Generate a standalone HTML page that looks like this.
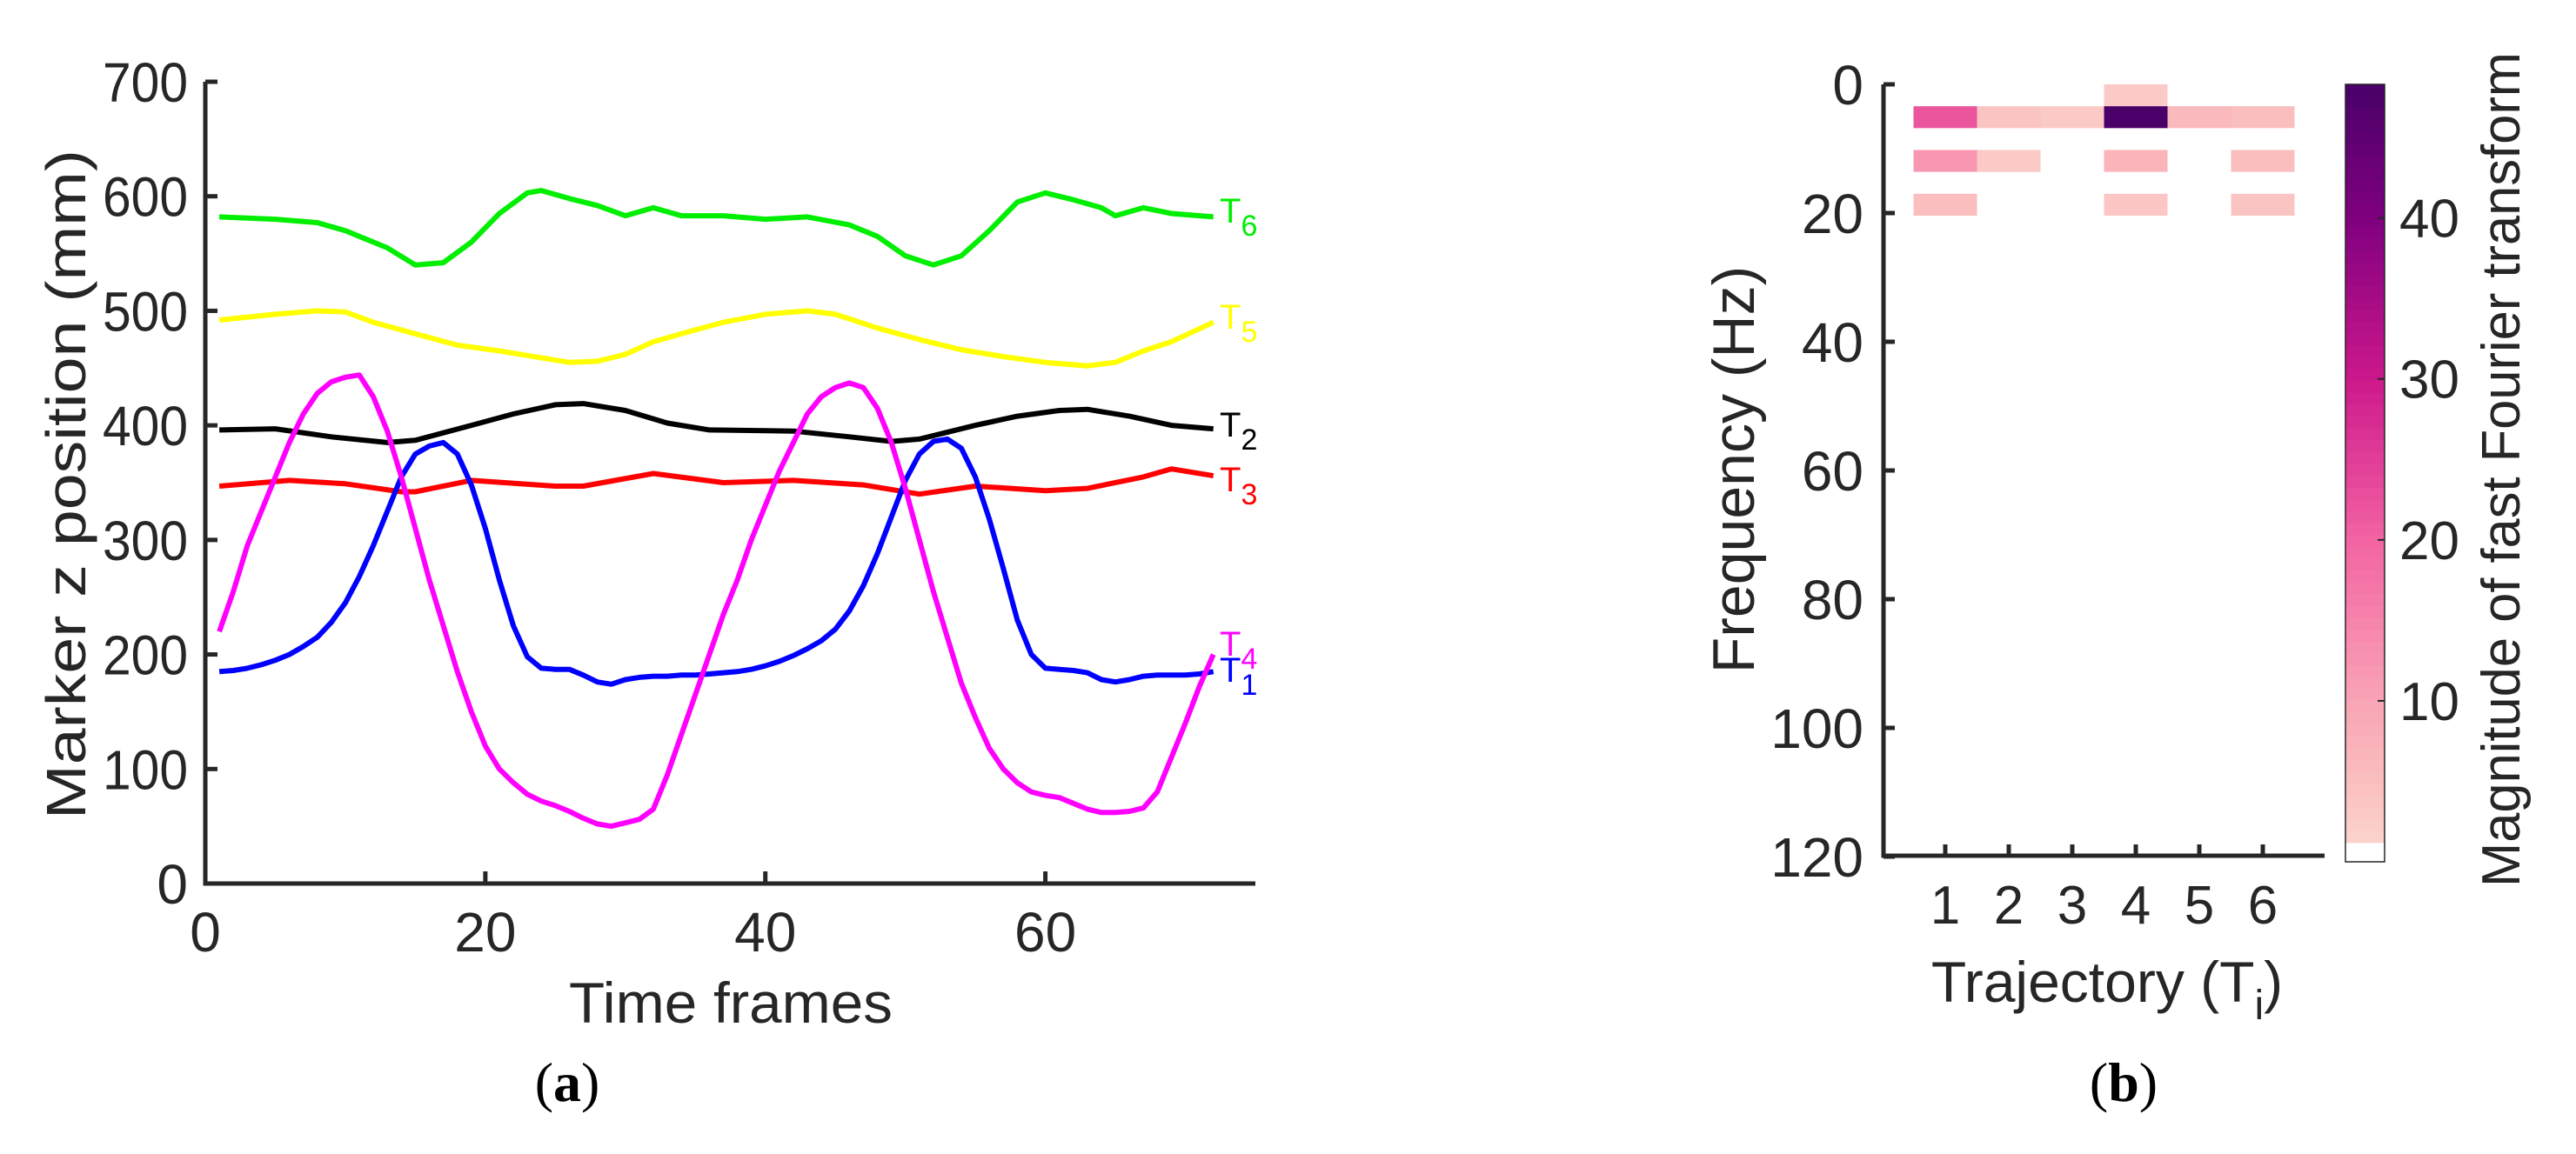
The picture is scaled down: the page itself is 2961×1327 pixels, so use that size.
<!DOCTYPE html>
<html><head><meta charset="utf-8"><style>
html,body{margin:0;padding:0;background:#fff}
svg text{font-family:"Liberation Sans",sans-serif;fill:#262626}
</style></head><body>
<svg id="fig" width="2961" height="1322" viewBox="0 0 2961 1322" xmlns="http://www.w3.org/2000/svg">
<g id="left"></g>
<g id="right"></g>
</svg>
<script>
// ---------- chart (a) data ----------
const frames = [];
for (let i = 1; i <= 72; i++) frames.push(i);
const t4Values = [220,255,295,325,355,385,410,428,438,442,444,425,395,355,310,265,225,185,150,120,100,88,78,72,68,63,57,52,50,53,56,65,95,130,165,200,235,265,300,330,360,385,410,425,433,437,433,415,385,345,300,255,215,175,145,118,100,88,80,77,75,70,65,62,62,63,66,80,110,140,172,200];
const t1Values = [185,186,188,191,195,200,207,215,228,245,268,295,325,355,375,382,385,375,348,310,265,225,198,188,187,187,182,176,174,178,180,181,181,182,182,183,184,185,187,190,194,199,205,212,222,238,260,288,320,352,375,386,388,380,355,318,275,230,200,188,187,186,184,178,176,178,181,182,182,182,183,185];
const t3Frames = [1,6,10,14,15,19,25,27,32,37,42,47,51,55,60,63,67,69,72];
const t3Values = [347,352,349,342,342,352,347,347,358,350,352,348,340,347,343,345,355,362,356];
const t2Frames = [1,5,9,13,15,19,22,25,27,30,33,36,42,46,49,51,55,58,61,63,66,69,72];
const t2Values = [396,397,390,385,387,400,410,418,419,413,402,396,395,390,386,388,400,408,413,414,408,400,397];
const t5Frames = [1,5,8,10,12,15,18,21,24,26,28,30,32,34,37,40,43,45,48,51,54,57,60,63,65,67,69,72];
const t5Values = [492,497,500,499,490,480,470,465,459,455,456,462,473,480,490,497,500,497,485,475,466,460,455,452,455,465,473,490];
const t6Frames = [1,5,8,10,13,15,17,19,21,23,24,26,28,30,32,34,37,40,43,46,48,50,52,54,56,58,60,62,64,65,67,69,72];
const t6Values = [582,580,577,570,555,540,542,560,585,603,605,598,592,583,590,583,583,580,582,575,565,548,540,548,570,595,603,597,590,583,590,585,582];
const xTicksA = [0,20,40,60];
const yTicksA = [0,100,200,300,400,500,600,700];

// ---------- chart (b) data ----------
const trajectories = [1,2,3,4,5,6];
const freqBinStarts = [0,3.4,10.2,17];
const magRow0 = [null,null,null,3,null,null];
const magRow1 = [22,4,3,48,6,5];
const magRow2 = [12,3,null,7,null,5];
const magRow3 = [5,null,null,3.5,null,4];
const freqTicks = [0,20,40,60,80,100,120];
const cbTicks = [10,20,30,40];

const NS = "http://www.w3.org/2000/svg";
function mk(parent, tag, attrs, text) {
  const e = document.createElementNS(NS, tag);
  for (const k in attrs) e.setAttribute(k, attrs[k]);
  if (text !== undefined) e.textContent = text;
  parent.appendChild(e);
  return e;
}
const axisCol = "#262626";

// ===== chart (a) =====
const L = document.getElementById('left');
const ax = f => 236 + f * (1207 / 75);
const ay = v => 1016 - v * (922 / 700);
let a1 = mk(L, 'path', {d: `M236,${ay(700)} V1016 H${ax(75)}`, fill: 'none', stroke: axisCol, 'stroke-width': 5});


yTicksA.forEach(v => {
  let t = mk(L, 'line', {x1: 236, x2: 250, y1: ay(v), y2: ay(v), stroke: axisCol, 'stroke-width': 5});
  
  
  let l = mk(L, 'text', {x: 216, y: ay(v) + 23, 'text-anchor': 'end', 'font-size': 64, textLength: 98, lengthAdjust: 'spacingAndGlyphs'}, String(v));
  if (v === 0) { l.removeAttribute('textLength'); l.removeAttribute('lengthAdjust'); }
  
  
});
xTicksA.forEach(v => {
  let t = mk(L, 'line', {x1: ax(v), x2: ax(v), y1: 1016, y2: 1002, stroke: axisCol, 'stroke-width': 5});
  
  
  let l = mk(L, 'text', {x: ax(v), y: 1094, 'text-anchor': 'middle', 'font-size': 64}, String(v));
  
  
});
let xt = mk(L, 'text', {x: 840, y: 1176, 'text-anchor': 'middle', 'font-size': 66, textLength: 372, lengthAdjust: 'spacingAndGlyphs'}, 'Time frames');


let yt = mk(L, 'text', {x: 0, y: 0, 'text-anchor': 'middle', 'font-size': 64, textLength: 770, lengthAdjust: 'spacingAndGlyphs', transform: 'translate(98,557) rotate(-90)'}, 'Marker z position (mm)');


let cap = mk(L, 'text', {x: 652, y: 1266, 'text-anchor': 'middle', 'font-size': 64, style: 'font-family:"Liberation Serif",serif;fill:#000'});


cap.innerHTML = '(<tspan font-weight="bold">a</tspan>)';

const series = [
  {name: 'T6', sub: '6', fr: t6Frames, vals: t6Values, color: '#00ee00', ly: 256},
  {name: 'T5', sub: '5', fr: t5Frames, vals: t5Values, color: '#ffff00', ly: 378},
  {name: 'T2', sub: '2', fr: t2Frames, vals: t2Values, color: '#000000', ly: 502},
  {name: 'T3', sub: '3', fr: t3Frames, vals: t3Values, color: '#ff0000', ly: 565},
  {name: 'T1', sub: '1', fr: frames, vals: t1Values, color: '#0000ff', ly: 784},
  {name: 'T4', sub: '4', fr: frames, vals: t4Values, color: '#ff00ff', ly: 754},
];
series.forEach(s => {
  const pts = s.fr.map((f, i) => ax(f).toFixed(1) + ',' + ay(s.vals[i]).toFixed(1)).join(' ');
  let p = mk(L, 'polyline', {points: pts, fill: 'none', stroke: s.color, 'stroke-width': 6, 'stroke-linejoin': 'round'});
  
  
  let t = mk(L, 'text', {x: 1402, y: s.ly, 'font-size': 40, style: 'fill:' + s.color});
  
  
  t.innerHTML = 'T<tspan dy="15" font-size="34">' + s.sub + '</tspan>';
});

// ===== chart (b) =====
const R = document.getElementById('right');
const bx = c => 2236 + (c - 1) * 73;
const by = f => 97 + f * (888 / 120);
const cbTop = 97, cbBot = 991, cbMax = 48.3;
const cby = v => cbBot - v * ((cbBot - cbTop) / cbMax);
const stops = [[0,[252,218,210]],[5,[250,190,190]],[10,[249,164,181]],[20,[243,100,163]],[30,[204,24,140]],[40,[128,0,128]],[48.3,[73,0,104]]];
function colorFor(v) {
  for (let i = 1; i < stops.length; i++) {
    if (v <= stops[i][0]) {
      const a = stops[i-1], b = stops[i], t = (v - a[0]) / (b[0] - a[0]);
      const c = a[1].map((x, k) => Math.round(x + (b[1][k] - x) * t));
      return `rgb(${c[0]},${c[1]},${c[2]})`;
    }
  }
  return 'rgb(73,0,104)';
}
const rows = [magRow0, magRow1, magRow2, magRow3];
rows.forEach((row, ri) => {
  row.forEach((v, ci) => {
    if (v === null) return;
    const c = trajectories[ci];
    let r = mk(R, 'rect', {x: bx(c) - 36.5, y: by(freqBinStarts[ri]), width: 73, height: by(3.4) - by(0), fill: colorFor(v)});
    
    
  });
});
let a2 = mk(R, 'path', {d: `M2165,97 V984 H2672`, fill: 'none', stroke: axisCol, 'stroke-width': 5});


freqTicks.forEach(v => {
  let t = mk(R, 'line', {x1: 2165, x2: 2178, y1: by(v), y2: by(v), stroke: axisCol, 'stroke-width': 5});
  
  
  let l = mk(R, 'text', {x: 2142, y: by(v) + 23, 'text-anchor': 'end', 'font-size': 64}, String(v));
  
  
});
trajectories.forEach(c => {
  let t = mk(R, 'line', {x1: bx(c), x2: bx(c), y1: 984, y2: 971, stroke: axisCol, 'stroke-width': 5});
  
  
  let l = mk(R, 'text', {x: bx(c), y: 1062, 'text-anchor': 'middle', 'font-size': 62}, String(c));
  
  
});
let xt2 = mk(R, 'text', {x: 2422, y: 1152, 'text-anchor': 'middle', 'font-size': 66});


xt2.innerHTML = 'Trajectory (T<tspan dy="20" font-size="48">i</tspan><tspan dy="-20">)</tspan>';
let yt2 = mk(R, 'text', {x: 0, y: 0, 'text-anchor': 'middle', 'font-size': 68, transform: 'translate(2016,540) rotate(-90)'}, 'Frequency (Hz)');


let cap2 = mk(R, 'text', {x: 2441, y: 1266, 'text-anchor': 'middle', 'font-size': 64, style: 'font-family:"Liberation Serif",serif;fill:#000'});


cap2.innerHTML = '(<tspan font-weight="bold">b</tspan>)';
// colorbar
const nb = 64;
for (let i = 0; i < nb; i++) {
  const v0 = 1.2 + i * (cbMax - 1.2) / nb, v1 = 1.2 + (i + 1) * (cbMax - 1.2) / nb;
  let b = mk(R, 'rect', {x: 2696, y: cby(v1), width: 45, height: cby(v0) - cby(v1) + 0.6, fill: colorFor((v0 + v1) / 2)});
  
  
}
let cbf = mk(R, 'rect', {x: 2696, y: cbTop, width: 45, height: cbBot - cbTop, fill: 'none', stroke: axisCol, 'stroke-width': 1.5});


cbTicks.forEach(v => {
  let t = mk(R, 'line', {x1: 2733, x2: 2741, y1: cby(v), y2: cby(v), stroke: axisCol, 'stroke-width': 2});
  
  
  let l = mk(R, 'text', {x: 2758, y: cby(v) + 22, 'font-size': 62}, String(v));
  
  
});
let cbt = mk(R, 'text', {x: 0, y: 0, 'text-anchor': 'middle', 'font-size': 62, textLength: 960, lengthAdjust: 'spacingAndGlyphs', transform: 'translate(2896,540) rotate(-90)'}, 'Magnitude of fast Fourier transform');


</script>
</body></html>
